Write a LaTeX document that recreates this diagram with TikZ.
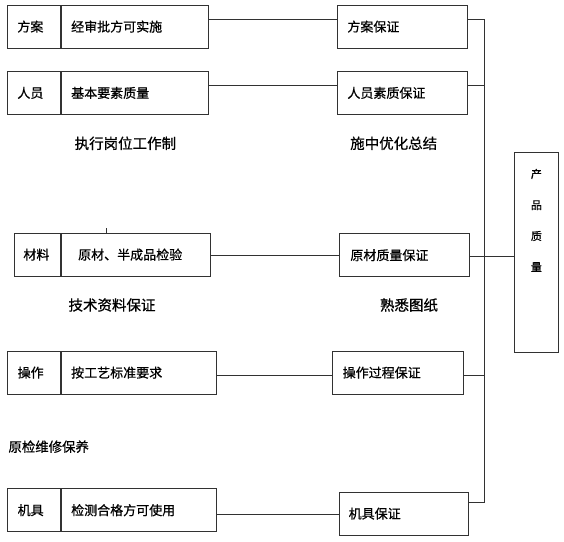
\documentclass[tikz,border=0pt]{standalone}
\usepackage{fontspec}
\newfontfamily\cjk[FakeBold=0.7]{Noto Sans CJK SC}
\usepackage{xcolor}
\definecolor{qline}{RGB}{50,50,50}
\usetikzlibrary{positioning}
\tikzset{
  tag/.style={draw=qline,line width=0.8pt,minimum height=43pt,inner xsep=10pt,inner ysep=0pt,align=left,font=\cjk\fontsize{13}{15}\selectfont},
  prod/.style={draw=qline,line width=0.8pt,minimum width=43.4pt,minimum height=200.6pt,inner sep=0pt},
  prodtext/.style={align=center,inner sep=0pt,font=\cjk\fontsize{11}{31}\selectfont},
  note/.style={inner sep=0pt,font=\cjk\fontsize{14.5}{16}\selectfont},
  link/.style={draw=qline,line width=0.8pt},
}

\begin{document}
\begin{tikzpicture}[x=1pt,y=-1pt]
\useasboundingbox (0,0) rectangle (564,541);
\node[tag,anchor=north west,text width=33pt] (fa) at (7,4.7) {方案};
\node[tag,right=0pt of fa,text width=127pt] (fa-do) {经审批方可实施};
\node[tag,anchor=north west,text width=110pt] (fa-ok) at (337,4.7) {方案保证};
\node[tag,anchor=north west,text width=33pt] (ry) at (7,71) {人员};
\node[tag,right=0pt of ry,text width=127pt] (ry-do) {基本要素质量};
\node[tag,anchor=north west,text width=110pt] (ry-ok) at (337,71) {人员素质保证};
\node[note] (zx) at (125.4,143.3) {执行岗位工作制};
\node[note] (sz) at (393.7,143.3) {施中优化总结};
\node[tag,anchor=north west,inner xsep=9pt,text width=28pt] (cl) at (14,232.7) {材料};
\node[tag,right=0pt of cl,inner xsep=17pt,text width=115.5pt] (cl-do) {原材、半成品检验};
\node[tag,anchor=north west,inner xsep=11pt,text width=108pt] (cl-ok) at (339,233.3) {原材质量保证};
\node[note] (js) at (112,305) {技术资料保证};
\node[note] (sx) at (409,305) {熟悉图纸};
\node[tag,anchor=north west,text width=32.7pt] (cz) at (7.3,350.7) {操作};
\node[tag,right=0pt of cz,text width=135pt] (cz-do) {按工艺标准要求};
\node[tag,anchor=north west,text width=110.4pt] (cz-ok) at (332.3,350.7) {操作过程保证};
\node[note,anchor=west,font=\cjk\fontsize{13.4}{16}\selectfont] (wx) at (8.3,446.7) {原检维修保养};
\node[tag,anchor=north west,text width=32.7pt] (jj) at (7.3,488.3) {机具};
\node[tag,right=0pt of jj,text width=135pt] (jj-do) {检测合格方可使用};
\node[tag,anchor=north west,inner xsep=9pt,text width=111pt] (jj-ok) at (339.3,491.7) {机具保证};
\node[prod,anchor=north west] (pq) at (514.3,151.7) {};
\node[prodtext,below=17pt of pq.north] (pq-txt) {产\\品\\质\\量};
\coordinate (bus) at (484.5,502.7);
\coordinate (nick) at (106,228.3);
\draw[link] ([yshift=7.7pt]fa-do.east) -- ([yshift=7.7pt]fa-ok.west);
\draw[link] ([yshift=7.7pt]fa-ok.east) -| (bus);
\draw[link] ([yshift=7.7pt]ry-do.east) -- ([yshift=7.7pt]ry-ok.west);
\draw[link] ([yshift=7.7pt]ry-ok.east) -- ([yshift=7.7pt]ry-ok.east -| bus);
\draw[link] ([yshift=-1pt]cl-do.east) -- ([yshift=-1pt]cl-do.east -| cl-ok.west);
\draw[link] ([yshift=-1pt]cl-ok.east) -- ([yshift=-1pt]cl-ok.east -| pq.west);
\draw[link] ([yshift=-2.3pt]cz-do.east) -- ([yshift=-2.3pt]cz-ok.west);
\draw[link] ([yshift=-2.3pt]cz-ok.east) -- ([yshift=-2.3pt]cz-ok.east -| bus);
\draw[link] ([yshift=-4pt]jj-do.east) -- ([yshift=-4pt]jj-do.east -| jj-ok.west);
\draw[link] (jj-ok.east |- bus) -- (bus);
\draw[link,line width=0.5pt] (nick) -- (nick |- cl-do.north);
\end{tikzpicture}
\end{document}
